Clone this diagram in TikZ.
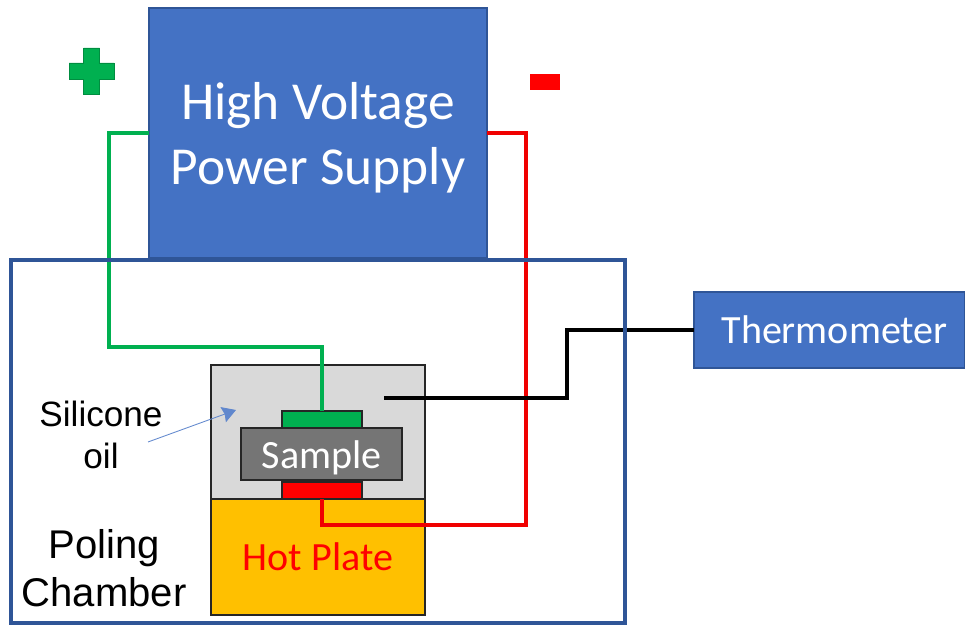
\documentclass[tikz,border=0pt]{standalone}
\usepackage{fontspec}
\setmainfont{Carlito}
\newfontfamily\labelfont{Liberation Sans}
\usetikzlibrary{arrows.meta}
\definecolor{boxblue}{HTML}{4472C4}
\definecolor{edgeblue}{HTML}{2F5597}
\definecolor{wiregreen}{HTML}{00B050}
\definecolor{wirered}{HTML}{F00000}
\definecolor{oilgray}{HTML}{D9D9D9}
\definecolor{samplegray}{HTML}{757575}
\definecolor{plateyellow}{HTML}{FFC000}

\begin{document}
\begin{tikzpicture}[
  >={Stealth[length=0.34cm,width=0.4cm,inset=0.04cm]},
  every node/.style={outer sep=0pt},
  bluebox/.style={draw=edgeblue, fill=boxblue, line width=1.8pt, text=white, align=center},
  partbox/.style={draw=black!85, line width=1.5pt},
  pad/.style={partbox, minimum width=2cm, minimum height=0.425cm},
  wire/.style={line width=3.4pt, line join=miter},
  caption/.style={font=\labelfont\fontsize{25}{29.5}\selectfont, align=center}
]
\useasboundingbox (0,0) rectangle (24.125,15.625);

% Power supply
\node[bluebox, minimum width=8.45cm, minimum height=6.25cm, font=\fontsize{38}{46}\selectfont] (psu) at (7.95, 12.3)
  {\rule{0pt}{1.15cm}High Voltage\\Power Supply};

% Oil bath and what sits in it
\node[partbox, fill=oilgray, minimum width=5.35cm, minimum height=3.35cm] (oil) at (7.95, 4.825) {};
\node[partbox, fill=plateyellow, minimum width=5.35cm, minimum height=2.9cm,
  text=red, font=\fontsize{28.5}{32}\selectfont] (plate) at (7.95, 1.7) {Hot Plate};
\node[partbox, fill=samplegray, minimum width=4.025cm, minimum height=1.3cm,
  text=white, font=\fontsize{28.5}{32}\selectfont] (sample) at (8.04, 4.275) {\rule{0pt}{0.9cm}Sample};
\node[pad, fill=wiregreen] (greenpad) at (8.05, 5.1375) {};
\node[pad, fill=red] (redpad) at (8.05, 3.3625) {};

% Thermometer
\node[bluebox, minimum width=6.775cm, minimum height=1.9cm, font=\fontsize{28.5}{32}\selectfont] (thermo) at (20.74, 7.375)
  {\hspace*{0.25cm}Thermometer};
\coordinate (probe) at (9.6, 5.675);

% Wires
\draw[wire, wiregreen] (psu.west) -- ++(-1,0) -- ++(0,-5.35) -| (greenpad.north);
\draw[wire, wirered] (psu.east) -- ++(0.975,0) -- ++(0,-9.8) -| (redpad.south);
\draw[wire, black] (thermo.west) -- ++(-3.175,0) |- (probe);

% Chamber outline goes over the wires
\node[draw=edgeblue, line width=3.2pt, minimum width=15.35cm, minimum height=9.075cm] (chamber) at (7.95, 4.5875) {};

% Polarity signs
\path[fill=wiregreen, draw=wiregreen!80!black, line width=0.5pt]
  (1.725,13.65) -- (2.0875,13.65) -- (2.0875,13.275) -- (2.4875,13.275) -- (2.4875,13.65)
  -- (2.85,13.65) -- (2.85,14.05) -- (2.4875,14.05) -- (2.4875,14.425) -- (2.0875,14.425)
  -- (2.0875,14.05) -- (1.725,14.05) -- cycle;
\node[fill=red, minimum width=0.75cm, minimum height=0.4cm, inner sep=0pt] (minus) at (13.625, 13.575) {};

% Labels
\node[caption] (silicone) at (2.525, 4.75) {Silicone\\oil};
\node[caption, font=\labelfont\fontsize{28.5}{34}\selectfont] (poling) at (2.6, 1.425) {Poling\\Chamber};
\coordinate (oilpoint) at (5.9, 5.375);
\draw[->, boxblue!85!white, line width=0.6pt] (3.7, 4.575) -- (oilpoint);

\end{tikzpicture}
\end{document}
